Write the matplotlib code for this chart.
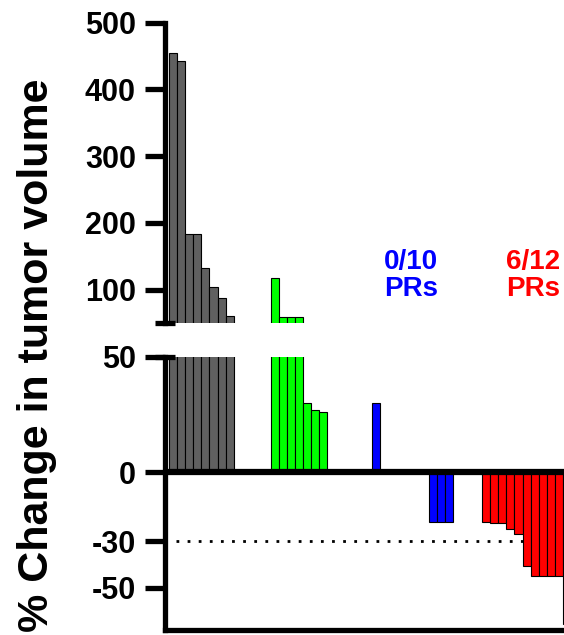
import numpy as np
import matplotlib
matplotlib.use("Agg")
import matplotlib.pyplot as plt

plt.rcParams['font.family'] = ['Liberation Sans', 'DejaVu Sans']
plt.rcParams['font.weight'] = 'bold'

# % change in tumor volume per animal, sorted within each group
gray_vals = [454, 443, 183, 183, 133, 104, 87, 60, 0]
green_vals = [117, 59, 59, 59, 30, 27, 26, 0, 0]
blue_vals = [30, 0, 0, 0, 0, 0, 0, -21.5, -21.5, -21.5]
red_vals = [-21.5, -22, -22, -24.5, -27, -40.5, -45, -45, -45, -45, -66, -68]

groups = [gray_vals, green_vals, blue_vals, red_vals]
colors = ['#606060', '#00ff00', '#0000ff', '#ff0000']
gap = 3.55

top_ticks = [100, 200, 300, 400, 500]
bot_ticks = [50, 0, -30, -50]
bot_labels = ['50', '0', '-30', '-50']

W, H = 564, 635
fig = plt.figure(figsize=(W / 100, H / 100), dpi=100)

x0 = 165
ax_top = fig.add_axes([x0 / W, 1 - 323 / H, (W - x0) / W, (323 - 22.7) / H])
ax_bot = fig.add_axes([x0 / W, 1 - 629.8 / H, (W - x0) / W, (629.8 - 356.5) / H])

lw_axis = 3.8

# draw the bars in both panels
start = 0
for vals, c in zip(groups, colors):
    xs = start + np.arange(len(vals))
    for ax in (ax_top, ax_bot):
        ax.bar(xs, vals, width=1, align='edge', color=c, edgecolor='black',
               linewidth=0.8, zorder=2)
    start += len(vals) + gap

for ax in (ax_top, ax_bot):
    ax.set_xlim(-0.49, 48.77)
    ax.spines['top'].set_visible(False)
    ax.spines['right'].set_visible(False)
    ax.spines['left'].set_linewidth(lw_axis)
    ax.set_xticks([])
    ax.tick_params(axis='y', length=14.5, width=lw_axis, labelsize=22, pad=6.5)
    # break caps
    ax.plot([-10 / (W - x0), 10 / (W - x0)], [50, 50], color='black', lw=lw_axis,
            transform=ax.get_yaxis_transform(), clip_on=False,
            solid_capstyle='butt', zorder=5)

ax_top.set_ylim(50, 500)
ax_top.spines['bottom'].set_visible(False)
ax_top.set_yticks(top_ticks)

ax_bot.set_ylim(-68.3, 50)
ax_bot.spines['bottom'].set_linewidth(lw_axis)
ax_bot.set_yticks(bot_ticks)
ax_bot.set_yticklabels(bot_labels)
ax_bot.axhline(0, color='black', lw=4.5, zorder=3)
ax_bot.axhline(-30, xmin=11 / (W - x0), color='black', lw=2,
               linestyle=(0, (1, 3)), zorder=1)

fig.text(37 / W, 1 - 355 / H, '% Change in tumor volume', rotation=90,
         fontsize=31, fontweight='bold', ha='center', va='center')

fig.text(411 / W, 1 - 276 / H, '0/10\nPRs', color='#0000ff', fontsize=20,
         fontweight='bold', ha='center', va='center', linespacing=1.05)
fig.text(533 / W, 1 - 276 / H, '6/12\nPRs', color='#ff0000', fontsize=20,
         fontweight='bold', ha='center', va='center', linespacing=1.05)

fig.savefig('out.png', dpi=100)
